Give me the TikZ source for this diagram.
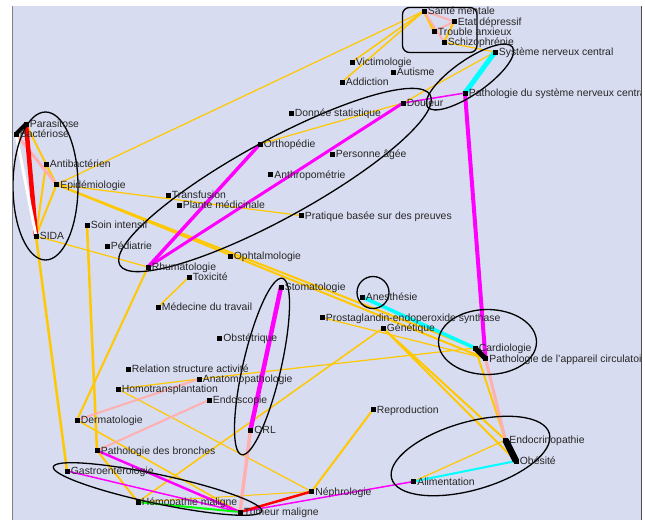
\documentclass[tikz,border=0pt]{standalone}
\usepackage{fontspec}
\setmainfont{Liberation Sans}
\pgfdeclarelayer{bg}
\pgfdeclarelayer{edges}
\pgfsetlayers{bg,edges,main}
\definecolor{jorange}{RGB}{255,200,0}
\definecolor{jpink}{RGB}{255,175,175}
\definecolor{jmag}{RGB}{255,0,255}
\definecolor{jcyan}{RGB}{0,255,255}
\definecolor{jgreen}{RGB}{0,255,0}
\definecolor{jred}{RGB}{255,0,0}
\definecolor{bgc}{RGB}{216,220,240}
\begin{document}
\begin{tikzpicture}[x=1pt,y=-1pt,
 mk/.style={rectangle,fill=black,inner sep=0pt,minimum size=5pt},
 lbl/.style={anchor=base west,inner sep=0pt,xshift=1pt,yshift=-3.5pt,font=\fontsize{10.4}{12}\selectfont,text=black!85},
 oe/.style={draw=jorange,line width=#1},
 pe/.style={draw=jpink,line width=#1},
 me/.style={draw=jmag,line width=#1},
 ce/.style={draw=jcyan,line width=#1},
 ke/.style={draw=black,line width=#1},
 re/.style={draw=jred,line width=#1},
 we/.style={draw=white,line width=#1},
 ge/.style={draw=jgreen,line width=#1},
 cluster/.style={draw=black,line width=1.3pt}]
\useasboundingbox (0,0) rectangle (645,520);
\begin{pgfonlayer}{bg}
\fill[white] (0,0) rectangle (645,520);
\fill[bgc] (12,6) rectangle (641,520);
\end{pgfonlayer}
% nodes
\node[mk,label={[lbl]0:Parasitose}] (para) at (26,124) {};
\node[mk,label={[lbl]0:Bactériose}] (bact) at (16,134) {};
\node[mk,label={[lbl]0:Antibactérien}] (antib) at (46,164) {};
\node[mk,label={[lbl]0:Epidémiologie}] (epid) at (56.5,184.5) {};
\node[mk,label={[lbl]0:SIDA}] (sida) at (36,236) {};
\node[mk,label={[lbl]0:Soin intensif}] (soin) at (87,225) {};
\node[mk,label={[lbl]0:Pédiatrie}] (pedia) at (107,246) {};
\node[mk,label={[lbl]0:Transfusion}] (transf) at (168,195) {};
\node[mk,label={[lbl]0:Plante médicinale}] (plante) at (179,205) {};
\node[mk,label={[lbl]0:Rhumatologie}] (rhuma) at (148,267) {};
\node[mk,label={[lbl]0:Toxicité}] (toxi) at (189,277) {};
\node[mk,label={[lbl]0:Médecine du travail}] (medtrav) at (158,307) {};
\node[mk,label={[lbl]0:Ophtalmologie}] (ophta) at (230,256) {};
\node[mk,label={[lbl]0:Pratique basée sur des preuves}] (prat) at (301,215.5) {};
\node[mk,label={[lbl]0:Anthropométrie}] (anthro) at (270.5,174.5) {};
\node[mk,label={[lbl]0:Stomatologie}] (stoma) at (281,287) {};
\node[mk,label={[lbl]0:Obstétrique}] (obst) at (219.5,338) {};
\node[mk,label={[lbl]0:Anesthésie}] (anest) at (362,297) {};
\node[mk,label={[lbl]0:Prostaglandin-endoperoxide synthase}] (prosta) at (322,317.5) {};
\node[mk,label={[lbl]0:Génétique}] (genet) at (383,328) {};
\node[mk,label={[lbl]0:Orthopédie}] (ortho) at (260,144) {};
\node[mk,label={[lbl]0:Personne âgée}] (pers) at (332,154) {};
\node[mk,label={[lbl]0:Donnée statistique}] (donnee) at (291,113) {};
\node[mk,label={[lbl]0:Douleur}] (douleur) at (403,103) {};
\node[mk,label={[lbl]0:Victimologie}] (victi) at (352,62) {};
\node[mk,label={[lbl]0:Autisme}] (autisme) at (393,72) {};
\node[mk,label={[lbl]0:Addiction}] (addic) at (342,82) {};
\node[mk,label={[lbl]0:Santé mentale}] (sante) at (424,11) {};
\node[mk,label={[lbl]0:Etat dépressif}] (etat) at (454,21.5) {};
\node[mk,label={[lbl]0:Trouble anxieux}] (troub) at (434,31.5) {};
\node[mk,label={[lbl]0:Schizophrénie}] (schizo) at (444,42) {};
\node[mk,label={[lbl]0:Système nerveux central}] (snc) at (495,52) {};
\node[mk,label={[lbl]0:Pathologie du système nerveux central}] (psnc) at (465,93) {};
\node[mk,label={[lbl]0:Cardiologie}] (cardio) at (475,348) {};
\node[mk,label={[lbl]0:Pathologie de l'appareil circulatoire}] (pcirc) at (485.5,358.5) {};
\node[mk,label={[lbl]0:Endocrinopathie}] (endo) at (505.5,440) {};
\node[mk,label={[lbl]0:Obésité}] (obes) at (516,461) {};
\node[mk,label={[lbl]0:Alimentation}] (alim) at (413.5,481.5) {};
\node[mk,label={[lbl]0:Reproduction}] (repro) at (373,409.5) {};
\node[mk,label={[lbl]0:Néphrologie}] (nephro) at (311.5,491.5) {};
\node[mk,label={[lbl]0:Tumeur maligne}] (tumeur) at (240,512) {};
\node[mk,label={[lbl]0:ORL}] (orl) at (250.5,430) {};
\node[mk,label={[lbl]0:Endoscopie}] (endosc) at (209,400) {};
\node[mk,label={[lbl]0:Anatomopathologie}] (anat) at (199,379) {};
\node[mk,label={[lbl]0:Relation structure activité}] (relat) at (128,369) {};
\node[mk,label={[lbl]0:Homotransplantation}] (homo) at (118,389) {};
\node[mk,label={[lbl]0:Dermatologie}] (derma) at (77,420) {};
\node[mk,label={[lbl]0:Pathologie des bronches}] (pbron) at (97,450.5) {};
\node[mk,label={[lbl]0:Gastroentérologie}] (gastro) at (67,471) {};
\node[mk,label={[lbl]0:Hémopathie maligne}] (hemo) at (138,502) {};
\begin{pgfonlayer}{edges}
% orange
\draw[oe=2pt] (para.center) -- (antib.center);
\draw[oe=2pt] (antib.center) -- (epid.center);
\draw[oe=2pt] (antib.center) -- (sida.center);
\draw[oe=2pt] (epid.center) -- (sida.center);
\draw[oe=2.5pt] (sida.center) -- (gastro.center);
\draw[oe=1.2pt] (sida.center) -- (rhuma.center);
\draw[oe=1.2pt] (epid.center) -- (prat.center);
\draw[oe=1.2pt] (sante.center) -- (epid.center);
\draw[oe=1.5pt] (sante.center) -- (victi.center);
\draw[oe=1.5pt] (sante.center) -- (addic.center);
\draw[oe=2.5pt] (sante.center) -- (troub.center);
\draw[oe=2pt] (etat.center) -- (schizo.center);
\draw[oe=1.2pt] (schizo.center) -- (snc.center);
\draw[oe=1.2pt] (douleur.center) -- (snc.center);
\draw[oe=1.2pt] (ortho.center) -- (douleur.center);
\draw[oe=2.5pt] (soin.center) -- (pbron.center);
\draw[oe=2pt] (rhuma.center) -- (derma.center);
\draw[oe=1.5pt] (toxi.center) -- (medtrav.center);
\draw[oe=1.2pt] (homo.center) -- (nephro.center);
\draw[oe=1.2pt] (homo.center) -- (anat.center);
\draw[oe=2pt] (pbron.center) -- (hemo.center);
\draw[oe=1.5pt] (derma.center) -- (tumeur.center);
\draw[oe=1.5pt] (hemo.center) -- (genet.center);
\draw[oe=1pt] (hemo.center) -- (nephro.center);
\draw[oe=2pt] (repro.center) -- (nephro.center);
\draw[oe=2pt] (epid.center) -- (cardio.center);
\draw[oe=2pt] (epid.center) -- (pcirc.center);
\draw[oe=1.2pt] (anat.center) -- (cardio.center);
\draw[oe=1.2pt] (prosta.center) -- (pcirc.center);
\draw[oe=2pt] (genet.center) -- (obes.center);
\draw[oe=2pt] (genet.center) -- (endo.center);
\draw[oe=2pt] (cardio.center) -- (endo.center);
\draw[oe=1.2pt] (alim.center) -- (endo.center);
% pink
\draw[pe=3pt] (bact.center) -- (epid.center);
\draw[pe=2pt] (sante.center) -- (etat.center);
\draw[pe=2pt] (etat.center) -- (troub.center);
\draw[pe=2pt] (sante.center) -- (schizo.center);
\draw[pe=3.5pt] (orl.center) -- (tumeur.center);
\draw[pe=3pt] (endo.center) -- (pcirc.center);
\draw[pe=2pt] (derma.center) -- (anat.center);
\draw[pe=2pt] (pbron.center) -- (endosc.center);
% magenta
\draw[me=3pt] (douleur.center) -- (rhuma.center);
\draw[me=3.5pt] (ortho.center) -- (rhuma.center);
\draw[me=4pt] (psnc.center) -- (pcirc.center);
\draw[me=1.5pt] (psnc.center) -- (douleur.center);
\draw[me=4.5pt] (stoma.center) -- (orl.center);
\draw[me=2.5pt] (pbron.center) -- (tumeur.center);
\draw[me=1.5pt] (gastro.center) -- (tumeur.center);
\draw[me=1.5pt] (tumeur.center) -- (alim.center);
% cyan, green, red, white, black
\draw[ce=5pt] (psnc.center) -- (snc.center);
\draw[ce=3.5pt] (anest.center) -- (cardio.center);
\draw[ce=2pt] (alim.center) -- (obes.center);
\draw[ge=2pt] (hemo.center) -- (tumeur.center);
\draw[re=4.5pt] (para.center) -- (sida.center);
\draw[re=2.5pt] (nephro.center) -- (tumeur.center);
\draw[we=3pt] (bact.center) -- (sida.center);
\draw[ke=4pt] (para.center) -- (bact.center);
\draw[ke=5pt] (cardio.center) -- (pcirc.center);
\draw[ke=6.5pt] (endo.center) -- (obes.center);
% clusters
\draw[cluster] (45.5,186) ellipse [x radius=32.5pt, y radius=74pt];
\draw[cluster,rotate around={28.7:(275,180)}] (275,180) ellipse [x radius=177pt, y radius=39pt];
\draw[cluster,rotate around={35:(470,77)}] (470,77) ellipse [x radius=52pt, y radius=17pt];
\draw[cluster,rounded corners=7pt] (402.5,7.5) rectangle (477,52.5);
\draw[cluster] (373,292.5) circle [radius=16pt];
\draw[cluster] (487.5,342) ellipse [x radius=49pt, y radius=32.5pt];
\draw[cluster,rotate around={16:(470.5,456)}] (470.5,456) ellipse [x radius=82pt, y radius=34pt];
\draw[cluster,rotate around={77:(262,366.5)}] (262,366.5) ellipse [x radius=90.5pt, y radius=19pt];
\draw[cluster,rotate around={-12:(157.5,489)}] (157.5,489) ellipse [x radius=106.5pt, y radius=14.5pt];
\end{pgfonlayer}
% frame
\fill[white] (641,0) rectangle (645,520);
\draw[gray,line width=1pt] (12,6) -- (12,520);
\draw[black!70,line width=1pt] (641,6) -- (641,520);
\end{tikzpicture}
\end{document}
